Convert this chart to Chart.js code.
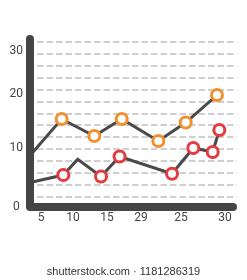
<!DOCTYPE html>
<html>
<head>
<meta charset="utf-8">
<script src="https://cdn.jsdelivr.net/npm/chart.js@4/dist/chart.umd.min.js"></script>
<style>
    html, body { margin: 0; padding: 0; background: #fff; }
    #wrap { position: relative; width: 247px; height: 280px; }
    #stamp {
        position: absolute; left: 0; top: 264px; width: 247px;
        text-align: center; font: 11px "Liberation Sans", Arial, sans-serif;
        color: #333; line-height: 14px;
    }
</style>
</head>
<body>
<div id="wrap">
    <canvas id="line-chart"></canvas>
    <div id="stamp">shutterstock.com · 1181286319</div>
</div>
<script>
// axis range and tick labels (tick labels sit where the picture puts them)
const xMin = 3.5, xMax = 31.63;
const yMin = 0, yMax = 33.08;
const xTickPos = [5, 9.35, 13.97, 18.59, 24.02, 30];
const xTickLabels = ["5", "10", "15", "29", "25", "30"];
const yTickPos = [0, 11.35, 21.73, 30];
const yTickLabels = ["0", "10", "20", "30"];

// upper series (orange markers)
const upperX = [3.5, 7.8, 12.24, 15.96, 20.94, 24.66, 28.91];
const upperY = [9.9, 16.92, 13.65, 16.92, 12.7, 16.25, 21.54];

// lower series (red markers)
const lowerX = [3.5, 8.03, 9.98, 13.15, 15.67, 22.8, 25.69, 28.33, 29.23];
const lowerY = [4.7, 6.15, 9.17, 5.87, 9.71, 6.4, 11.35, 10.58, 14.81];

Chart.defaults.font.family = "Roboto";
Chart.defaults.font.size = 12;
Chart.defaults.color = "#444";

// thick rounded axes drawn over the chart area edges
const axisBars = {
    id: "axisBars",
    afterDatasetsDraw(chart) {
        const { ctx, chartArea } = chart;
        ctx.save();
        ctx.strokeStyle = "#454545";
        ctx.lineWidth = 8;
        ctx.lineCap = "round";
        ctx.lineJoin = "round";
        ctx.beginPath();
        ctx.moveTo(chartArea.left, chartArea.top + 4);
        ctx.lineTo(chartArea.left, chartArea.bottom);
        ctx.lineTo(chartArea.right - 4, chartArea.bottom);
        ctx.stroke();
        ctx.restore();
    },
};

const toPoints = (xs, ys) => xs.map((x, i) => ({ x: x, y: ys[i] }));

const lineData = {
    datasets: [
        {
            label: "Upper",
            data: toPoints(upperX, upperY),
            borderColor: "#4a4a4a",
            borderWidth: 3,
            pointBackgroundColor: "#fff",
            pointBorderColor: "#f0912f",
            pointBorderWidth: 3,
            pointRadius: (c) => (c.dataIndex === 0 ? 0 : 5.5),
            pointHoverRadius: 5.5,
            tension: 0,
        },
        {
            label: "Lower",
            data: toPoints(lowerX, lowerY),
            borderColor: "#4a4a4a",
            borderWidth: 3,
            pointBackgroundColor: "#fff",
            pointBorderColor: "#e33b40",
            pointBorderWidth: 3,
            pointRadius: (c) => (c.dataIndex === 0 || c.dataIndex === 2 ? 0 : 5.5),
            pointHoverRadius: 5.5,
            tension: 0,
        },
    ],
};

const lineConfig = {
    type: "line",
    data: lineData,
    plugins: [axisBars],
    options: {
        responsive: true,
        maintainAspectRatio: false,
        animation: false,
        clip: false,
        layout: { padding: { top: 35, left: 0, right: 0, bottom: 0 } },
        plugins: {
            legend: { display: false },
            tooltip: { enabled: false },
        },
        scales: {
            x: {
                type: "linear",
                min: xMin,
                max: xMax,
                grid: { display: false, drawTicks: false },
                border: { display: false },
                afterBuildTicks: (scale) => {
                    scale.ticks = xTickPos.map((v) => ({ value: v }));
                },
                afterFit: (scale) => {
                    scale.height = 73;
                },
                ticks: {
                    autoSkip: false,
                    maxRotation: 0,
                    padding: 4,
                    callback: (value, index) => xTickLabels[index],
                },
            },
            y: {
                position: "left",
                min: yMin,
                max: yMax,
                grid: { display: false, drawTicks: false },
                border: { display: false },
                afterBuildTicks: (scale) => {
                    scale.ticks = yTickPos.map((v) => ({ value: v }));
                },
                afterFit: (scale) => {
                    scale.width = 30;
                },
                ticks: {
                    crossAlign: "center",
                    padding: 7,
                    callback: (value, index) => yTickLabels[index],
                },
            },
            // dashed background rules only
            rules: {
                position: "right",
                min: -0.839,
                max: 13.59,
                grid: { color: "#cfcfcf", lineWidth: 2, drawTicks: false },
                border: { display: false, dash: [6.5, 3], dashOffset: 2.5 },
                ticks: { display: false },
                afterBuildTicks: (scale) => {
                    const t = [];
                    for (let k = Math.ceil(scale.min); k <= scale.max; k++) t.push({ value: k });
                    scale.ticks = t;
                },
                afterFit: (scale) => {
                    scale.width = 10;
                },
            },
        },
    },
};

const lineChart = new Chart(document.getElementById("line-chart"), lineConfig);
</script>
</body>
</html>
